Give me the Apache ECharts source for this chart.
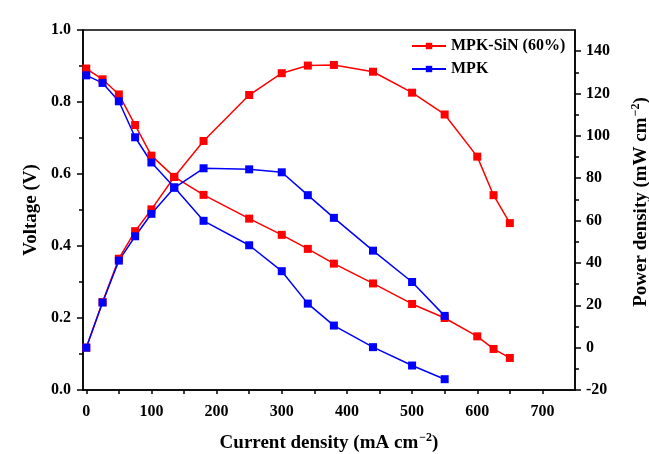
<!DOCTYPE html>
<html>
<head>
<meta charset="utf-8">
<script src="https://cdn.jsdelivr.net/npm/echarts@6/dist/echarts.min.js"></script>
<style>
  html, body { margin: 0; padding: 0; background: #fff; }
  #chart { width: 649px; height: 454px; }
</style>
</head>
<body>
<div id="chart"></div>
<script>
// Polarization and power density curves of the two membranes
const currentSiN = [0, 25, 50, 75, 100, 135, 180, 250, 300, 340, 380, 440, 500, 550, 600, 625, 650];
const voltageSiN = [0.893, 0.863, 0.821, 0.736, 0.651, 0.592, 0.542, 0.476, 0.431, 0.392, 0.351, 0.296, 0.239, 0.200, 0.149, 0.114, 0.089];
const powerSiN = [0, 21.5, 42, 55, 65.3, 80.6, 97.6, 119.3, 129.6, 133.2, 133.5, 130.3, 120.4, 110.1, 90.2, 72.0, 58.8];

const currentMPK = [0, 25, 50, 75, 100, 135, 180, 250, 300, 340, 380, 440, 500, 550];
const voltageMPK = [0.874, 0.853, 0.802, 0.702, 0.632, 0.563, 0.470, 0.402, 0.330, 0.240, 0.179, 0.119, 0.068, 0.030];
const powerMPK = [0, 21.3, 41.1, 52.6, 63.2, 75.5, 84.7, 84.2, 82.8, 72.0, 61.3, 45.8, 31.0, 15.0];

const xTickValues = [0, 50, 100, 150, 200, 250, 300, 350, 400, 450, 500, 550, 600, 650, 700];
const xLabelValues = [0, 100, 200, 300, 400, 500, 600, 700];
const powerMajorTicks = [-20, 0, 20, 40, 60, 80, 100, 120, 140];
const powerMinorTicks = [-10, 10, 30, 50, 70, 90, 110, 130];

const nameSiN = 'MPK-SiN (60%)';
const nameMPK = 'MPK';
const RED = '#ff0000';
const BLUE = '#0000ff';

const pairs = (xs, ys) => xs.map((x, i) => [x, ys[i]]);

const FONT = '"Liberation Serif", "Times New Roman", serif';
const labelStyle = { color: '#000', fontFamily: FONT, fontWeight: 'bold', fontSize: 16 };
const nameStyle = {
  color: '#000', fontFamily: FONT, fontWeight: 'bold', fontSize: 19,
  rich: {
    sup: { fontFamily: FONT, fontWeight: 'bold', fontSize: 12, color: '#000', padding: [0, 0, 10, 1] }
  }
};
const axisLine = { show: true, onZero: false, lineStyle: { color: '#000', width: 1.5 } };
const tickLine = { color: '#000', width: 1.5 };

function lineSeries(name, xs, ys, color, yIndex) {
  return {
    name: name,
    type: 'line',
    yAxisIndex: yIndex,
    data: pairs(xs, ys),
    symbol: 'rect',
    symbolSize: 8,
    showAllSymbol: true,
    lineStyle: { color: color, width: 1.5 },
    itemStyle: { color: color },
    emphasis: { disabled: true },
    animation: false
  };
}

const chart = echarts.init(document.getElementById('chart'), null, { renderer: 'canvas' });
chart.setOption({
  backgroundColor: '#fff',
  animation: false,
  grid: {
    left: 83, right: 74, top: 30, bottom: 64,
    containLabel: false,
    outerBoundsMode: 'none',
    show: true, borderColor: '#000', borderWidth: 1.5, backgroundColor: 'transparent'
  },
  legend: {
    orient: 'vertical',
    left: 411,
    top: 38,
    padding: 0,
    itemWidth: 34,
    itemHeight: 8,
    itemGap: 7,
    textStyle: labelStyle,
    data: [nameSiN, nameMPK]
  },
  xAxis: {
    type: 'value',
    position: 'bottom',
    min: -5,
    max: 750,
    name: 'Current density (mA cm{sup|−2})',
    nameLocation: 'middle',
    nameGap: 42,
    nameTextStyle: nameStyle,
    axisLine: axisLine,
    axisTick: { show: true, length: 4, lineStyle: tickLine, customValues: xTickValues },
    axisLabel: Object.assign({ margin: 14, customValues: xLabelValues }, labelStyle),
    splitLine: { show: false }
  },
  yAxis: [
    {
      type: 'value',
      position: 'left',
      min: 0,
      max: 1,
      interval: 0.2,
      name: 'Voltage (V)',
      nameLocation: 'middle',
      nameRotate: 90,
      nameGap: 37,
      nameTextStyle: nameStyle,
      axisLine: axisLine,
      axisTick: { show: true, length: 6, lineStyle: tickLine },
      minorTick: { show: true, splitNumber: 2, length: 4, lineStyle: tickLine },
      axisLabel: Object.assign({ margin: 12, formatter: v => v.toFixed(1) }, labelStyle),
      splitLine: { show: false },
      minorSplitLine: { show: false }
    },
    {
      type: 'value',
      position: 'right',
      min: -20,
      max: 150,
      name: 'Power density (mW cm{sup|−2})',
      nameLocation: 'middle',
      nameRotate: 90,
      nameGap: 55,
      nameTextStyle: Object.assign({ padding: [0, 0, 0, 16] }, nameStyle),
      axisLine: axisLine,
      axisTick: { show: true, length: 6, lineStyle: tickLine, customValues: powerMajorTicks },
      axisLabel: Object.assign({ margin: 11, customValues: powerMajorTicks }, labelStyle),
      splitLine: { show: false }
    },
    {
      // minor ticks of the power density axis
      type: 'value',
      position: 'right',
      min: -20,
      max: 150,
      axisLine: { show: false, onZero: false },
      axisTick: { show: true, length: 4, lineStyle: tickLine, customValues: powerMinorTicks },
      axisLabel: { show: false },
      splitLine: { show: false }
    }
  ],
  series: [
    lineSeries(nameSiN, currentSiN, voltageSiN, RED, 0),
    lineSeries(nameSiN, currentSiN, powerSiN, RED, 1),
    lineSeries(nameMPK, currentMPK, voltageMPK, BLUE, 0),
    lineSeries(nameMPK, currentMPK, powerMPK, BLUE, 1)
  ]
});
</script>
</body>
</html>
